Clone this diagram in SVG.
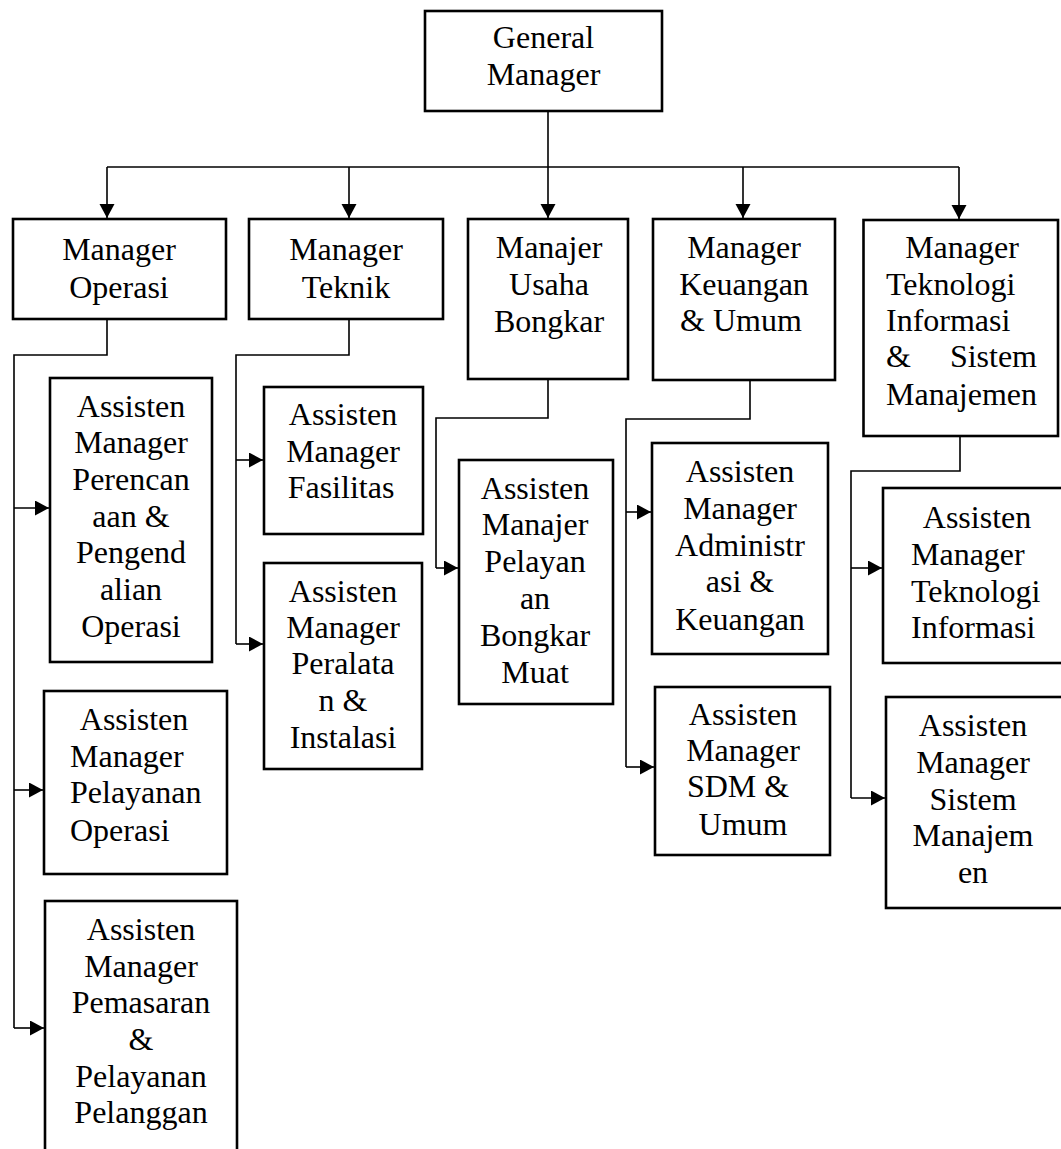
<svg xmlns="http://www.w3.org/2000/svg" width="1061" height="1149" viewBox="0 0 1061 1149">
<style>
.box{fill:#fff;stroke:#000;stroke-width:2.6}
text{font-family:"Liberation Serif","Times New Roman",serif;font-size:32px;fill:#000}
.c{text-anchor:middle}
.e{text-anchor:end}
.ln{fill:none;stroke:#000;stroke-width:1.6}
.ar{fill:none;stroke:#000;stroke-width:1.6;marker-end:url(#ah)}
</style>
<defs>
<marker id="ah" markerUnits="userSpaceOnUse" markerWidth="16" markerHeight="16" refX="14" refY="7.5" orient="auto">
<path d="M0,0 L14,7.5 L0,15 z" fill="#000"/>
</marker>
</defs>
<rect width="1061" height="1149" fill="#fff"/>
<g id="connectors">
<path class="ar" d="M548,111 V218"/>
<path class="ln" d="M107,167 H959"/>
<path class="ar" d="M107,167 V218"/>
<path class="ar" d="M349,167 V218"/>
<path class="ar" d="M743,167 V218"/>
<path class="ar" d="M959,167 V219"/>
<path class="ln" d="M107,319 V355 H14 V1028"/>
<path class="ar" d="M14,508 H49"/>
<path class="ar" d="M14,790 H43"/>
<path class="ar" d="M14,1028 H44"/>
<path class="ln" d="M349,319 V355 H236 V644"/>
<path class="ar" d="M236,460 H263"/>
<path class="ar" d="M236,644 H263"/>
<path class="ln" d="M548,379 V418 H436 V568"/>
<path class="ar" d="M436,568 H458"/>
<path class="ln" d="M750,380 V419 H626 V767"/>
<path class="ar" d="M626,512 H651"/>
<path class="ar" d="M626,767 H654"/>
<path class="ln" d="M960,436 V471 H851 V798"/>
<path class="ar" d="M851,568 H882"/>
<path class="ar" d="M851,798 H885"/>
</g>
<g id="gm">
<rect class="box" x="425" y="11" width="237" height="100"/>
<text class="c" x="543.5" y="48">General</text>
<text class="c" x="543.5" y="85">Manager</text>
</g>
<g id="m-operasi">
<rect class="box" x="13" y="219" width="213" height="100"/>
<text class="c" x="119" y="260">Manager</text>
<text class="c" x="119" y="298">Operasi</text>
</g>
<g id="m-teknik">
<rect class="box" x="249" y="219" width="194" height="100"/>
<text class="c" x="346" y="260">Manager</text>
<text class="c" x="346" y="298">Teknik</text>
</g>
<g id="m-usaha">
<rect class="box" x="468" y="219" width="160" height="160"/>
<text class="c" x="549" y="258">Manajer</text>
<text class="c" x="549" y="295">Usaha</text>
<text class="c" x="549" y="332">Bongkar</text>
</g>
<g id="m-keuangan">
<rect class="box" x="653" y="219" width="182" height="161"/>
<text class="c" x="744" y="258">Manager</text>
<text class="c" x="744" y="295">Keuangan</text>
<text class="c" x="741" y="331">&amp; Umum</text>
</g>
<g id="m-ti">
<rect class="box" x="863.5" y="220" width="194.5" height="216"/>
<text class="c" x="962" y="258">Manager</text>
<text x="886" y="295">Teknologi</text>
<text x="886" y="331">Informasi</text>
<text x="886" y="367">&amp;</text>
<text class="e" x="1037" y="367">Sistem</text>
<text x="886" y="405">Manajemen</text>
</g>
<g id="am-perencanaan">
<rect class="box" x="50" y="378" width="162" height="284"/>
<text class="c" x="131" y="417">Assisten</text>
<text class="c" x="131" y="453">Manager</text>
<text class="c" x="131" y="490">Perencan</text>
<text class="c" x="131" y="527">aan &amp;</text>
<text class="c" x="131" y="563">Pengend</text>
<text class="c" x="131" y="600">alian</text>
<text class="c" x="131" y="637">Operasi</text>
</g>
<g id="am-pelayanan-operasi">
<rect class="box" x="44" y="691" width="183" height="183"/>
<text class="c" x="134" y="730">Assisten</text>
<text x="70" y="767">Manager</text>
<text x="70" y="803">Pelayanan</text>
<text x="70" y="841">Operasi</text>
</g>
<g id="am-pemasaran">
<rect class="box" x="45" y="901" width="192" height="260"/>
<text class="c" x="141" y="940">Assisten</text>
<text class="c" x="141" y="977">Manager</text>
<text class="c" x="141" y="1013">Pemasaran</text>
<text class="c" x="141" y="1050">&amp;</text>
<text class="c" x="141" y="1087">Pelayanan</text>
<text class="c" x="141" y="1123">Pelanggan</text>
</g>
<g id="am-fasilitas">
<rect class="box" x="264" y="387" width="159" height="147"/>
<text class="c" x="343" y="425">Assisten</text>
<text class="c" x="343" y="462">Manager</text>
<text class="c" x="341" y="498">Fasilitas</text>
</g>
<g id="am-peralatan">
<rect class="box" x="264" y="563" width="158" height="206"/>
<text class="c" x="343" y="602">Assisten</text>
<text class="c" x="343" y="638">Manager</text>
<text class="c" x="343" y="674">Peralata</text>
<text class="c" x="343" y="711">n &amp;</text>
<text class="c" x="343" y="748">Instalasi</text>
</g>
<g id="am-bongkar-muat">
<rect class="box" x="459" y="460" width="154" height="244"/>
<text class="c" x="535" y="499">Assisten</text>
<text class="c" x="535" y="535">Manajer</text>
<text class="c" x="535" y="572">Pelayan</text>
<text class="c" x="535" y="609">an</text>
<text class="c" x="535" y="646">Bongkar</text>
<text class="c" x="535" y="683">Muat</text>
</g>
<g id="am-administrasi">
<rect class="box" x="652" y="443" width="176" height="211"/>
<text class="c" x="740" y="482">Assisten</text>
<text class="c" x="740" y="519">Manager</text>
<text class="c" x="740" y="556">Administr</text>
<text class="c" x="740" y="592">asi &amp;</text>
<text class="c" x="740" y="630">Keuangan</text>
</g>
<g id="am-sdm">
<rect class="box" x="655" y="687" width="175" height="168"/>
<text class="c" x="743" y="725">Assisten</text>
<text class="c" x="743" y="761">Manager</text>
<text class="c" x="738" y="797">SDM &amp;</text>
<text class="c" x="743" y="835">Umum</text>
</g>
<g id="am-ti">
<rect class="box" x="883" y="488" width="182" height="175"/>
<text class="c" x="977" y="528">Assisten</text>
<text x="911" y="565">Manager</text>
<text x="911" y="602">Teknologi</text>
<text x="911" y="638">Informasi</text>
</g>
<g id="am-sistem">
<rect class="box" x="886" y="697" width="179" height="211"/>
<text class="c" x="973" y="736">Assisten</text>
<text class="c" x="973" y="773">Manager</text>
<text class="c" x="973" y="810">Sistem</text>
<text class="c" x="973" y="846">Manajem</text>
<text class="c" x="973" y="883">en</text>
</g>
</svg>
